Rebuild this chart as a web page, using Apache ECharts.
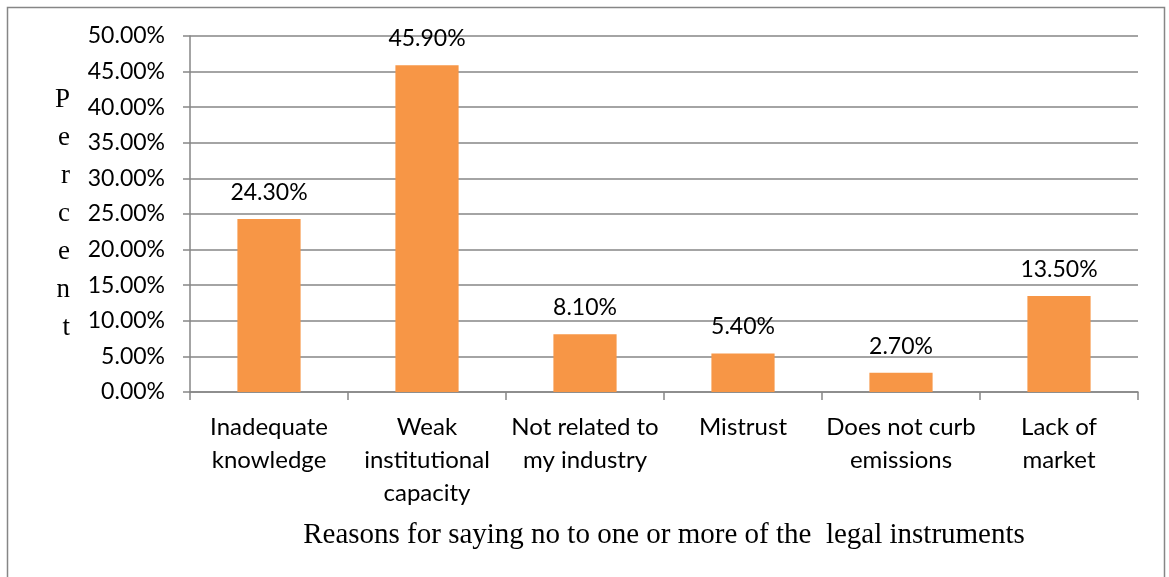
<!DOCTYPE html>
<html><head><meta charset="utf-8">
<script src="https://cdn.jsdelivr.net/npm/echarts@6/dist/echarts.min.js"></script>
<style>html,body{margin:0;padding:0;background:#fff}#c{width:1169px;height:577px}</style>
</head><body><div id="c"></div>
<script>
const categories = ["Inadequate\nknowledge", "Weak\ninstitutional\ncapacity", "Not related to\nmy industry", "Mistrust", "Does not curb\nemissions", "Lack of\nmarket"];
const values = [24.3, 45.9, 8.1, 5.4, 2.7, 13.5];
const yTicks = { min: 0, max: 50, interval: 5 };
const yName = "Percent";
const xName = "Reasons for saying no to one or more of the  legal instruments";

const sans = 'Lato, "Open Sans", sans-serif';
const serif = '"Liberation Serif", "Times New Roman", serif';
const chart = echarts.init(document.getElementById('c'), null, {renderer: 'canvas'});
chart.setOption({
  animation: false,
  backgroundColor: '#fff',
  graphic: [{
    type: 'rect', shape: {x: 7.5, y: 7.5, width: 1157, height: 600},
    style: {fill: 'none', stroke: '#868686', lineWidth: 1.5}, z: -1
  }],
  grid: {left: 190, right: 31, top: 36, bottom: 185, containLabel: false},
  xAxis: {
    type: 'category', data: categories,
    axisLine: {lineStyle: {color: '#868686', width: 1.5}},
    axisTick: {show: true, length: 8, alignWithLabel: false, lineStyle: {color: '#868686', width: 1.5}},
    axisLabel: {interval: 0, color: '#000', fontFamily: sans, fontSize: 24, lineHeight: 33, margin: 19},
    name: xName, nameLocation: 'middle', nameGap: 129,
    nameTextStyle: {fontFamily: serif, fontSize: 29, color: '#000'}
  },
  yAxis: {
    type: 'value', min: yTicks.min, max: yTicks.max, interval: yTicks.interval,
    axisLine: {show: true, lineStyle: {color: '#868686', width: 1.5}},
    axisTick: {show: true, length: 7, inside: false, lineStyle: {color: '#868686', width: 1.5}},
    splitLine: {lineStyle: {color: '#868686', width: 1.5}},
    axisLabel: {formatter: v => v.toFixed(2) + '%', color: '#000', fontFamily: sans, fontSize: 23, margin: 25},
    name: yName.split('').join('\n'), nameLocation: 'middle', nameRotate: 0, nameGap: 120,
    nameTextStyle: {fontFamily: serif, fontSize: 27, color: '#000', lineHeight: 38, padding: [9, 0, 0, 0]}
  },
  series: [{
    type: 'bar', data: values, barWidth: '40%',
    itemStyle: {color: '#F79646'},
    label: {show: true, position: 'top', distance: 15, formatter: p => p.value.toFixed(2) + '%', color: '#000', fontFamily: sans, fontSize: 23}
  }]
});
</script></body></html>
